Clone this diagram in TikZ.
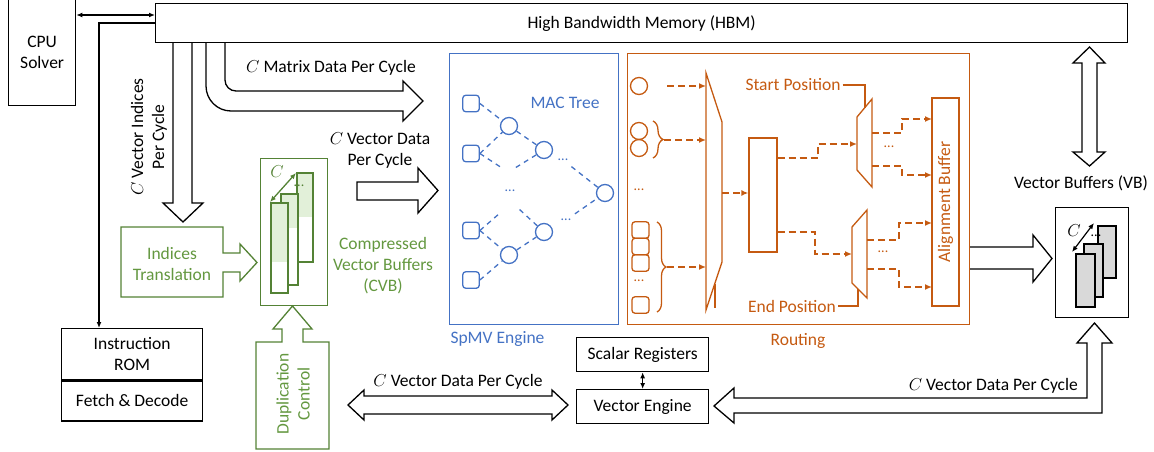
\documentclass[tikz,border=0pt]{standalone}
\usepackage{fontspec}
\setmainfont{Carlito}
\usetikzlibrary{arrows.meta,decorations.pathreplacing}

\definecolor{cvbgreen}{RGB}{84,130,53}
\definecolor{cvbtext}{RGB}{100,152,64}
\definecolor{cvbfill}{RGB}{226,240,217}
\definecolor{macblue}{RGB}{68,114,196}
\definecolor{routeorange}{RGB}{197,90,17}
\definecolor{bufgray}{RGB}{217,217,217}

\tikzset{
  >={Latex[length=6pt,width=5pt]},
  txt/.style={font=\fontsize{17.5}{21}\selectfont, inner sep=0pt, align=center},
  dotsf/.style={font=\fontsize{14}{14}\selectfont, inner sep=0pt},
  blackbox/.style={txt, draw=black, line width=1.3pt, fill=white, anchor=north west},
  blockarrow/.style={draw=black, line width=1.3pt, fill=white, line join=miter},
  thinline/.style={draw=black, line width=1.2pt},
  greenshape/.style={draw=cvbgreen, line width=1.3pt, fill=white, line join=miter},
  greenline/.style={draw=cvbgreen, line width=1.3pt},
  macsq/.style={draw=macblue, line width=1.3pt, rounded corners=3pt, minimum size=16.5pt, inner sep=0pt},
  maccirc/.style={draw=macblue, line width=1.3pt, circle, minimum size=17pt, inner sep=0pt},
  bdash/.style={macblue, line width=1.3pt, dash pattern=on 5pt off 4.5pt},
  orangeline/.style={draw=routeorange, line width=1.3pt},
  rcirc/.style={draw=routeorange, line width=1.3pt, circle, minimum size=17pt, inner sep=0pt},
  rsq/.style={draw=routeorange, line width=1.3pt, rounded corners=3pt, minimum width=17pt, minimum height=16.5pt, inner sep=0pt},
  odash/.style={routeorange, line width=1.6pt, dash pattern=on 7pt off 4pt, -{Latex[length=7pt,width=6pt]}},
  obrace/.style={orangeline, decorate, decoration={brace, amplitude=10pt}},
}

\begin{document}
\begin{tikzpicture}[x=1pt,y=-1pt]
\useasboundingbox (0,0) rectangle (1154,452);

% ---------- wide arrows leaving the HBM ----------
\filldraw[blockarrow] (173,42) -- (173,203) -- (163,203) -- (183,222) -- (203,203) -- (192,203) -- (192,42);
\filldraw[blockarrow] (225,42) -- (225,80) .. controls (225,86.1) and (229.9,91) .. (236,91)
  -- (403,91) -- (403,81) -- (423,101) -- (403,121) -- (403,111) -- (231,111)
  .. controls (217.2,111) and (206,99.8) .. (206,86) -- (206,42);
\filldraw[blockarrow] (1082,63) -- (1082,152) -- (1073,152) -- (1089.5,166) -- (1105,152) -- (1097,152)
  -- (1097,63) -- (1105,63) -- (1089.5,47) -- (1073,63) -- cycle;

% ---------- black blocks ----------
\node[blackbox, minimum width=972pt, minimum height=39pt] (hbm) at (155,3) {High Bandwidth Memory (HBM)};
\node[blackbox, minimum width=67pt, minimum height=106pt] (cpu) at (8,-1) {CPU\\Solver};
\node[blackbox, minimum width=141pt, minimum height=51pt] (rom) at (61,328) {Instruction\\ROM};
\node[blackbox, minimum width=141pt, minimum height=40pt, anchor=north] (fetch) at (rom.south) {Fetch \& Decode};
\node[blackbox, minimum width=132pt, minimum height=34pt] (scalar) at (576,337) {Scalar Registers};
\node[blackbox, minimum width=132pt, minimum height=34pt] (vengine) at (576,389) {Vector Engine};

\draw[thinline,<->] (cpu.east |- 0,15) -- (hbm.west |- 0,15);
\draw[thinline,->] (hbm.west |- 0,23) -| (99,0 |- rom.north);
\draw[thinline,<->] (scalar.south) -- (vengine.north);

% ---------- arrow labels ----------
\node[txt, rotate=90] (idxlbl) at (149,137) {$C$ Vector Indices\\Per Cycle};
\node[txt] (matlbl) at (331,68) {$C$ Matrix Data Per Cycle};
\node[txt] (veclbl) at (380,150.5) {$C$ Vector Data\\Per Cycle};
\node[txt] (botlbl) at (458,382) {$C$ Vector Data Per Cycle};
\node[txt, anchor=east] (vblbl2) at (1078,386) {$C$ Vector Data Per Cycle};
\node[txt] (vblbl) at (1081,183) {Vector Buffers (VB)};

% ---------- wide arrows in the lower part ----------
\filldraw[blockarrow] (357,182) -- (418,182) -- (418,168) -- (438,190.5) -- (418,213) -- (418,200) -- (357,200) -- cycle;
\filldraw[blockarrow] (348,405) -- (364,390) -- (364,396) -- (552,396) -- (552,390) -- (568,405)
  -- (552,420) -- (552,414) -- (364,414) -- (364,420) -- cycle;
\filldraw[blockarrow] (714,406) -- (734,388) -- (734,398) -- (1087,398) -- (1087,343) -- (1077,343)
  -- (1094.5,323) -- (1112,343) -- (1102,343) -- (1102,413) -- (734,413) -- (734,423) -- cycle;
\filldraw[blockarrow] (969,247) -- (1033,247) -- (1033,235) -- (1052,258.5) -- (1033,282) -- (1033,269) -- (969,269);

% ---------- compressed vector buffers ----------
\filldraw[greenshape] (121,227) -- (223,227) -- (223,253) -- (240,253) -- (240,244) -- (257,262.5)
  -- (240,281) -- (240,272) -- (223,272) -- (223,297) -- (121,297) -- cycle;
\node[txt, text=cvbtext] (idx) at (172,263.5) {Indices\\Translation};

\filldraw[greenshape] (256,449) -- (256,342) -- (282,342) -- (282,329) -- (273,329) -- (292.5,306)
  -- (312,329) -- (303,329) -- (303,342) -- (329,342) -- (329,449) -- cycle;
\node[txt, text=cvbtext, rotate=90] (dup) at (293,394) {Duplication\\Control};

\node[draw=cvbgreen, line width=1.3pt, minimum width=67pt, minimum height=147pt, anchor=north west, inner sep=0pt] (cvb) at (260,158) {};
\foreach \xa/\xb/\ya/\ym/\yb in {297/313/173/217/262, 281/298/194/228/285, 271/288/203/262/293}{
  \fill[white] (\xa,\ya) rectangle (\xb,\yb);
  \fill[cvbfill] (\xa,\ya) rectangle (\xb,\ym);
  \draw[greenline] (\xa,\ya) rectangle (\xb,\yb);
}
\node[dotsf, text=cvbgreen] (cvbdots) at (299,186) {...};
\coordinate (cvbA) at (270,202);
\coordinate (cvbB) at (296,173);
\draw[greenline,<->] (cvbA) -- (cvbB);
\node[txt, text=cvbgreen] (cvbc) at (277,172) {$C$};
\node[txt, text=cvbtext] (cvblbl) at (383,266) {Compressed\\Vector Buffers\\(CVB)};

% ---------- vector buffers ----------
\node[draw=black, line width=1.3pt, minimum width=73pt, minimum height=110pt, anchor=north west, inner sep=0pt] (vb) at (1055,207) {};
\foreach \xa/\xb/\ya/\yb in {1098/1116/226/278, 1084/1103/244/297, 1076/1095/254/307}{
  \filldraw[fill=bufgray, draw=black, line width=1.2pt] (\xa,\ya) rectangle (\xb,\yb);
}
\node[dotsf] (vbdots) at (1096,236) {...};
\coordinate (vbA) at (1072,252);
\coordinate (vbB) at (1094,223);
\draw[thinline,<->] (vbA) -- (vbB);
\node[txt] (vbc) at (1074,231) {$C$};

% ---------- SpMV engine with MAC tree ----------
\node[draw=macblue, line width=1.3pt, minimum width=169pt, minimum height=271pt, anchor=north west, inner sep=0pt] (spmv) at (449,53) {};
\node[txt, text=macblue] (spmvlbl) at (497.5,339) {SpMV Engine};
\node[txt, text=macblue] (mactree) at (565,103) {MAC Tree};

\node[macsq] (sq1) at (471,103.5) {};
\node[macsq] (sq2) at (471,153.5) {};
\node[macsq] (sq3) at (471,230.5) {};
\node[macsq] (sq4) at (471,280) {};
\node[maccirc] (m1) at (509,126) {};
\node[maccirc] (m2) at (544,150) {};
\node[maccirc] (m4) at (544,232) {};
\node[maccirc] (m5) at (509,255) {};
\node[maccirc] (root) at (605,193) {};
\node[dotsf, text=macblue] (md1) at (563,160) {...};
\node[dotsf, text=macblue] (md2) at (566,220) {...};
\node[dotsf, text=macblue] (md3) at (510,191) {...};
\coordinate (st1) at (502,168);
\coordinate (st2) at (515,168);
\coordinate (st3) at (500,213);
\coordinate (st4) at (519,209);

\draw[bdash] (sq1.east) -- (m1);
\draw[bdash] (sq2.east) -- (m1);
\draw[bdash] (m1) -- (m2);
\draw[bdash] (sq2.east) -- (st1);
\draw[bdash] (m2) -- (st2);
\draw[bdash, shorten <=9pt] (md1) -- (root);
\draw[bdash] (sq3.east) -- (st3);
\draw[bdash] (m4) -- (st4);
\draw[bdash] (sq3.east) -- (m5);
\draw[bdash] (sq4.east) -- (m5);
\draw[bdash] (m5) -- (m4);
\draw[bdash, shorten <=9pt] (md2) -- (root);

% ---------- routing ----------
\node[draw=routeorange, line width=1.3pt, minimum width=342pt, minimum height=271pt, anchor=north west, inner sep=0pt] (routing) at (627,53) {};
\node[txt, text=routeorange] (routinglbl) at (798,341) {Routing};

\node[rcirc] (rc1) at (639,86) {};
\node[rcirc] (rc2) at (639,131) {};
\node[rcirc] (rc3) at (639,148) {};
\node[dotsf, text=routeorange] (rd1) at (639,190) {...};
\node[rsq] (rs1) at (640.5,230) {};
\node[rsq] (rs2) at (640.5,246.5) {};
\node[rsq] (rs3) at (640.5,263) {};
\node[dotsf, text=routeorange] (rd2) at (639,281) {...};
\node[rsq] (rs5) at (640.5,305) {};
\draw[obrace] (653,121) -- (653,158);
\draw[obrace, decoration={amplitude=9pt}] (657,222) -- (657,312);

% input crossbar
\draw[orangeline, line join=miter] (706,73) -- (722,122) -- (722,262) -- (706,310) -- cycle;
\draw[orangeline] (715,284) -- (715,308);
\coordinate (in1) at (706,86);
\coordinate (in2) at (706,140);
\coordinate (in3) at (706,267);
\draw[odash] (667,86) -- (in1);
\draw[odash] (664,140) -- (in2);
\draw[odash] (667,267) -- (in3);

\node[draw=routeorange, line width=1.3pt, minimum width=28pt, minimum height=114pt, inner sep=0pt] (shiftreg) at (763,195) {};
\draw[odash] (722,193) -- (shiftreg.west |- 0,193);

% start / end multiplexers
\draw[orangeline, line join=miter] (857,117) -- (872,99) -- (872,187) -- (857,170) -- cycle;
\draw[orangeline, line join=miter] (852,227) -- (867,210) -- (867,298) -- (852,283) -- cycle;
\node[txt, text=routeorange] (startpos) at (793,85) {Start Position};
\node[txt, text=routeorange] (endpos) at (792,306) {End Position};
\draw[orangeline] ([xshift=2pt]startpos.east) -| (865,107.5);
\draw[orangeline] ([xshift=2pt]endpos.east) -| (858,289);

\node[draw=routeorange, line width=1.3pt, rotate=90, minimum width=208pt, minimum height=27pt, inner sep=0pt, text=routeorange, font=\fontsize{17.5}{21}\selectfont] (alignbuf) at (945.5,202) {Alignment Buffer};

\draw[odash] (shiftreg.east |- 0,158) -- (818,158) -- (818,144) -- (857,144);
\draw[odash] (shiftreg.east |- 0,232) -- (815,232) -- (815,254) -- (852,254);
\draw[odash] (872,133) -- (902,133) -- (902,119) -- (932,119);
\draw[odash] (872,166) -- (902,166) -- (902,175) -- (932,175);
\draw[odash] (867,240) -- (899,240) -- (899,223) -- (932,223);
\draw[odash] (867,269) -- (899,269) -- (899,287) -- (932,287);
\node[dotsf, text=routeorange] (md4) at (889,147) {...};
\node[dotsf, text=routeorange] (md5) at (883,252) {...};

\end{tikzpicture}
\end{document}
